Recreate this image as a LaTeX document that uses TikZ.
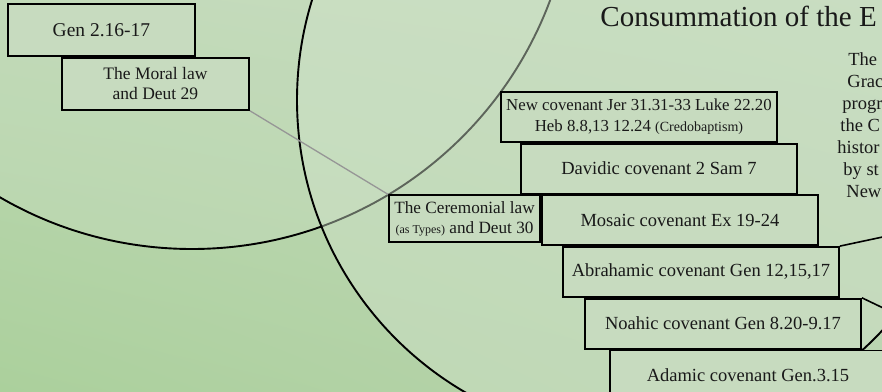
\documentclass[tikz,border=0pt]{standalone}
\usepackage{fontspec}
\setmainfont{Liberation Serif}
\usetikzlibrary{positioning,shadings}
\definecolor{bgll}{RGB}{171,208,156}
\definecolor{bgul}{RGB}{190,216,180}
\definecolor{bgur}{RGB}{196,218,188}
\definecolor{bglr}{RGB}{186,212,176}
\definecolor{ringfill}{RGB}{208,226,202}
\definecolor{boxfill}{RGB}{199,219,191}
\definecolor{ink}{RGB}{25,25,25}
\definecolor{linkgray}{RGB}{150,150,150}
\tikzstyle{ring}=[draw=black, line width=1.9pt, fill=ringfill]
\tikzstyle{link}=[-, line width=1.3pt, draw=linkgray]
\tikzstyle{edge}=[-, line width=1.6pt, draw=black]
\tikzstyle{lawbox}=[rectangle, draw=black, line width=1.9pt, text=ink,
        fill=boxfill, minimum width=187pt, minimum height=52pt, inner sep=2pt,
        align=center, anchor=north west, font=\fontsize{17.5}{20}\selectfont]
\tikzstyle{covbox}=[rectangle, draw=black, line width=1.9pt, text=ink,
        fill=boxfill, minimum width=276pt, minimum height=49.8pt, inner sep=2pt,
        align=center, anchor=north west, font=\fontsize{18.5}{21}\selectfont]
\tikzstyle{sidetxt}=[anchor=base west, inner sep=0pt, text=ink,
        font=\fontsize{18.5}{22}\selectfont]
\newcommand{\smalltxt}[2][12]{{\fontsize{#1}{14}\selectfont #2}}

\begin{document}
\begin{tikzpicture}[x=1pt,y=-1pt,thick]
    \useasboundingbox (0,0) rectangle (882,391);
    \clip (0,0) rectangle (882,391);
    \shade[lower left=bgll, upper left=bgul, upper right=bgur, lower right=bglr]
        (0,0) rectangle (882,391);

    % the two circles
    \draw[ring, fill opacity=0.25] (192,-133) circle [radius=382pt];
    \draw[ring, fill opacity=0.45] (635,100) circle [radius=338pt];

    \node (Gen) [lawbox, font=\fontsize{19.5}{22}\selectfont] at (7,3) {Gen 2.16-17};
    \node (Moral) [lawbox] at ([xshift=54pt]Gen.south west)
        {The Moral law\\and Deut 29};

    \node (NewCov) [covbox, font=\fontsize{16.8}{21}\selectfont] at (500,91)
        {New covenant Jer 31.31-33 Luke 22.20\\Heb 8.8,13 12.24 \smalltxt[14]{(Credobaptism)}};
    \node (Davidic) [covbox] at ([xshift=20pt]NewCov.south west)
        {Davidic covenant 2 Sam 7};
    \node (Mosaic) [covbox] at ([xshift=21pt]Davidic.south west)
        {Mosaic covenant Ex 19-24};
    \node (Abrahamic) [covbox] at ([xshift=21pt]Mosaic.south west)
        {Abrahamic covenant Gen 12,15,17};
    \node (Noahic) [covbox] at ([xshift=22pt]Abrahamic.south west)
        {Noahic covenant Gen 8.20-9.17};
    \node (Adamic) [covbox] at ([xshift=25pt]Noahic.south west)
        {Adamic covenant Gen.3.15};

    \node (Ceremonial) [lawbox, anchor=north east, minimum width=151pt,
            minimum height=47pt, font=\fontsize{17.2}{20}\selectfont] at (Mosaic.north west)
        {The Ceremonial law\\\smalltxt{(as Types)} and Deut 30};

    \draw[link] (Moral.south east) -- (Ceremonial.north west);

    \coordinate (offA) at (1000,212);
    \coordinate (offB) at (1000,364);
    \draw[edge] (Abrahamic.north east) -- (offA);
    \draw[edge] (Noahic.north east) -- (offB);

    \node (Title) [anchor=base west, inner sep=0pt, text=ink,
            font=\fontsize{29}{34}\selectfont] at (600,26) {Consummation of the E};

    \foreach \txt/\xx/\yy [count=\i] in {The/848/65, Grac/847/87, progr/842/109,
            the C/840/131, histor/837/153, by st/843/175, New/846/197}
        \node (side\i) [sidetxt] at (\xx,\yy) {\txt};

\end{tikzpicture}
\end{document}
